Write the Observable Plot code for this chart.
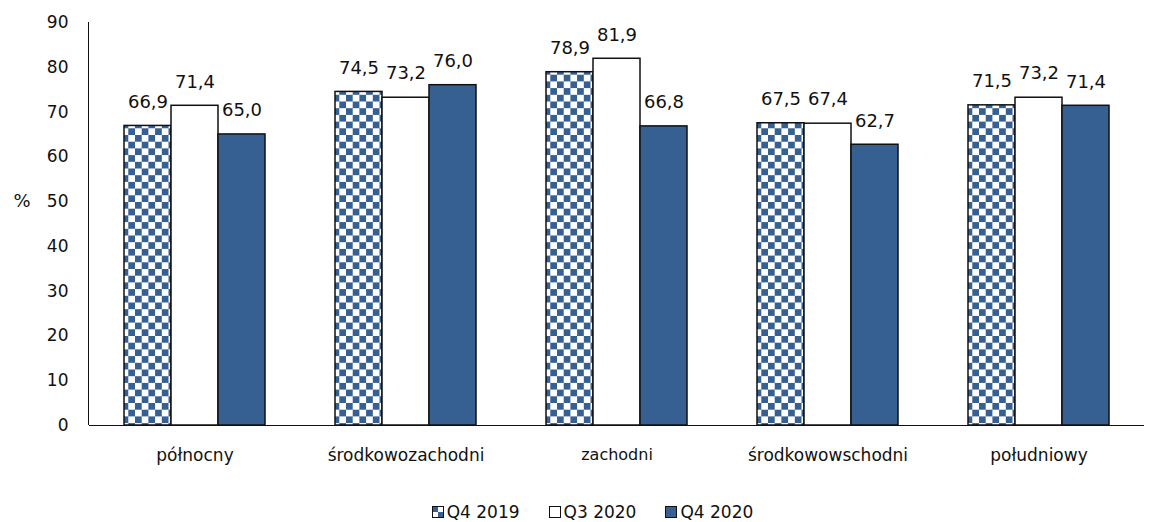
<!DOCTYPE html>
<html>
<head>
<meta charset="utf-8">
<script src="https://cdn.jsdelivr.net/npm/d3@7"></script>
<script src="https://cdn.jsdelivr.net/npm/@observablehq/plot@0.6"></script>
<style>
  body { margin: 0; background: #fff; font-family: "DejaVu Sans", sans-serif; }
  #chart svg { display: block; }
  .legend { display: flex; justify-content: center; gap: 29px; font-size: 17px; color: #111; margin-top: 17px; padding-left: 30px; line-height: 20px; }
  .legend span { display: inline-flex; align-items: center; }
  .sw { width: 12px; height: 12px; border: 1.5px solid #111; margin-right: 3px; box-sizing: border-box; display: inline-block; }
</style>
</head>
<body>
<div id="chart"></div>
<div class="legend" id="legend"></div>
<script>
const regions = ["północny", "środkowozachodni", "zachodni", "środkowowschodni", "południowy"];
const seriesNames = ["Q4 2019", "Q3 2020", "Q4 2020"];
const q4_2019 = [66.9, 74.5, 78.9, 67.5, 71.5];
const q3_2020 = [71.4, 73.2, 81.9, 67.4, 73.2];
const q4_2020 = [65.0, 76.0, 66.8, 62.7, 71.4];
const yTicks = [0, 10, 20, 30, 40, 50, 60, 70, 80, 90];

const blue = "#376092";
const fills = {"Q4 2019": "url(#checker)", "Q3 2020": "#ffffff", "Q4 2020": blue};

const seriesValues = [q4_2019, q3_2020, q4_2020];
const data = [];
regions.forEach((r, i) => seriesNames.forEach((s, j) => data.push({region: r, series: s, value: seriesValues[j][i]})));

const fmt = v => v.toFixed(1).replace(".", ",");

const plot = Plot.plot({
  width: 1155,
  height: 485,
  marginTop: 22,
  marginBottom: 60,
  marginLeft: 88,
  marginRight: 10,
  style: {fontFamily: "DejaVu Sans, sans-serif", fontSize: "17px", color: "#111", background: "#fff"},
  fx: {domain: regions, padding: 0, label: null, axis: null},
  x: {domain: seriesNames, paddingInner: 0, paddingOuter: 0.7, axis: null},
  y: {domain: [0, 90], ticks: yTicks, label: null},
  marks: [
    Plot.axisY({ticks: yTicks, tickSize: 0, tickPadding: 21, fontSize: 17, tickFormat: d => d}),
    Plot.axisFx({anchor: "bottom", tickSize: 0, tickPadding: 23, fontSize: 17, label: null}),
    Plot.barY(data, {fx: "region", x: "series", y: "value", fill: d => fills[d.series], stroke: "#111", strokeWidth: 1.5}),
    Plot.text(data, {fx: "region", x: "series", y: "value", text: d => fmt(d.value), dy: -24, fontSize: 18, fill: "#111"}),
    Plot.ruleY([0], {stroke: "#111", strokeWidth: 1.2})
  ]
});

const svg = d3.select(plot);
const defs = svg.insert("defs", ":first-child");
const pat = defs.append("pattern").attr("id", "checker").attr("patternUnits", "userSpaceOnUse")
  .attr("width", 13.4).attr("height", 13.4).attr("x", 0).attr("y", 1);
pat.append("rect").attr("width", 13.4).attr("height", 13.4).attr("fill", "#fff");
pat.append("rect").attr("width", 6.7).attr("height", 6.7).attr("fill", blue);
pat.append("rect").attr("x", 6.7).attr("y", 6.7).attr("width", 6.7).attr("height", 6.7).attr("fill", blue);

// y-axis line and % label
svg.append("line").attr("x1", 88.5).attr("x2", 88.5).attr("y1", 22).attr("y2", 425).attr("stroke", "#111").attr("stroke-width", 1);
svg.append("text").attr("x", 22).attr("y", plot.scale("y").apply(50)).attr("dy", "0.32em")
  .attr("text-anchor", "middle").attr("font-size", 18).attr("fill", "#111").text("%");

// slightly smaller "zachodni" label as in reference
svg.selectAll("text").filter(function(){ return this.textContent === "zachodni"; }).style("font-size", "16px");

document.getElementById("chart").appendChild(plot);

const legend = document.getElementById("legend");
seriesNames.forEach(s => {
  const item = document.createElement("span");
  const sw = document.createElement("span");
  sw.className = "sw";
  if (s === "Q4 2019") sw.style.background = `linear-gradient(${blue},${blue}) 0 0/50% 50% no-repeat, linear-gradient(${blue},${blue}) 100% 100%/50% 50% no-repeat, #fff`;
  else sw.style.background = fills[s];
  item.appendChild(sw);
  item.appendChild(document.createTextNode(s));
  legend.appendChild(item);
});
</script>
</body>
</html>
